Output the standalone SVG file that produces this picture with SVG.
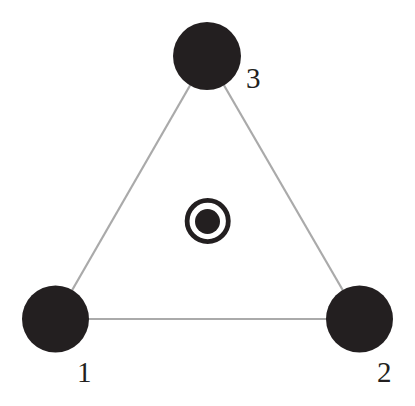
<svg xmlns="http://www.w3.org/2000/svg" width="415" height="406" viewBox="0 0 415 406">
<style>
.edge{stroke:#aaaaaa;stroke-width:2.2;fill:none}
.node{fill:#231f20}
.lbl{font-family:"Liberation Serif",serif;font-size:29px;fill:#231f20}
</style>
<rect width="415" height="406" fill="#ffffff"/>
<g id="connectors">
<line class="edge" x1="55.5" y1="319" x2="359.5" y2="319"/>
<line class="edge" x1="55.5" y1="319" x2="207" y2="56"/>
<line class="edge" x1="359.5" y1="319" x2="207" y2="56"/>
</g>
<g id="node1"><circle class="node" cx="55.5" cy="319" r="33.5"/><text class="lbl" x="77" y="382">1</text></g>
<g id="node2"><circle class="node" cx="359.5" cy="319" r="33.5"/><text class="lbl" x="377" y="382">2</text></g>
<g id="node3"><circle class="node" cx="207" cy="56" r="34"/><text class="lbl" x="246" y="88">3</text></g>
<g id="center">
<circle cx="207.7" cy="221" r="20.6" fill="none" stroke="#231f20" stroke-width="4.8"/>
<circle class="node" cx="207.5" cy="221.5" r="12.5"/>
</g>
</svg>
